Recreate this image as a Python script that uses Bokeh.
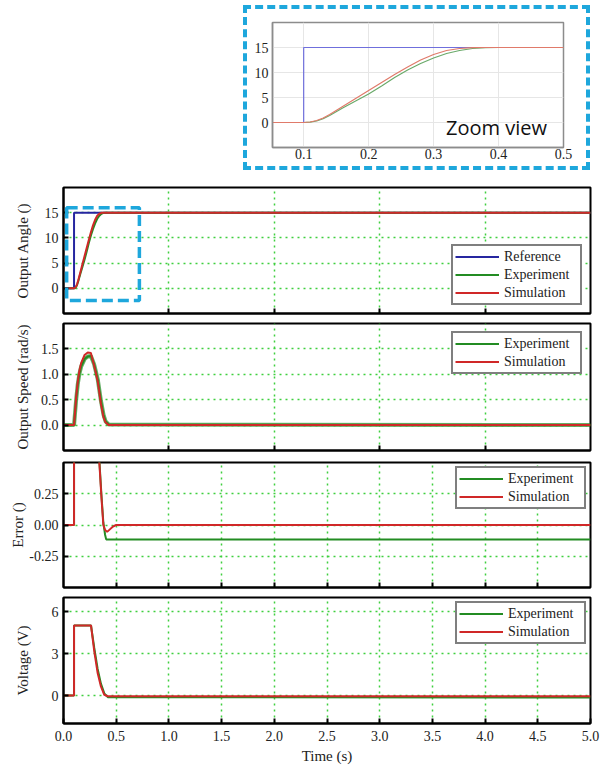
from bokeh.plotting import figure
from bokeh.layouts import column, row
from bokeh.models import Spacer, BoxAnnotation, Label, Legend, LegendItem, FixedTicker, Range1d
from bokeh.embed import file_html
from bokeh.resources import INLINE

# ---------------- data ----------------
REF_T = [0, 0.1, 0.1, 5.0]
REF_ANGLE = [0, 0, 15, 15]

ANGLE_T = [0, 0.1, 0.11, 0.12, 0.13, 0.14, 0.16, 0.18, 0.20, 0.22, 0.24, 0.26, 0.28, 0.30, 0.32, 0.34, 0.36, 0.38, 0.40, 5.0]
ANGLE_SIM = [0, 0, 0.1, 0.4, 0.9, 1.6, 3.2, 4.8, 6.4, 8.0, 9.6, 11.1, 12.5, 13.6, 14.4, 14.8, 14.97, 15, 15, 15]
ANGLE_EXP = [0, 0, 0.07, 0.3, 0.75, 1.4, 2.9, 4.3, 5.7, 7.3, 9.0, 10.5, 11.8, 12.9, 13.8, 14.4, 14.8, 14.97, 15, 15]

SPEED_T = [0, 0.10, 0.12, 0.135, 0.15, 0.167, 0.20, 0.23, 0.26, 0.29, 0.31, 0.325, 0.355, 0.38, 0.40, 0.43, 5.0]
SPEED_SIM = [0, 0, 0.55, 0.85, 1.06, 1.22, 1.38, 1.43, 1.42, 1.18, 1.0, 0.86, 0.42, 0.15, 0.05, 0, 0]
SPEED_EXP = [0, 0, 0.5, 0.8, 1.0, 1.15, 1.3, 1.35, 1.36, 1.2, 1.03, 0.9, 0.48, 0.2, 0.07, 0.01, 0]

ERR_SIM_T = [0, 0.1, 0.1, 0.2, 0.3, 0.34, 0.36, 0.378, 0.395, 0.414, 0.44, 0.47, 0.5, 5.0]
ERR_SIM = [0, 0, 15, 8.6, 1.4, 0.5, 0.22, 0.0, -0.04, -0.055, -0.035, -0.012, 0, 0]
ERR_EXP_T = [0, 0.1, 0.1, 0.2, 0.3, 0.34, 0.36, 0.378, 0.395, 0.405, 5.0]
ERR_EXP = [0, 0, 15, 9.3, 2.1, 0.52, 0.24, 0.02, -0.08, -0.115, -0.115]

VOLT_T = [0, 0.1, 0.1, 0.261, 0.292, 0.324, 0.355, 0.387, 0.42, 5.0]
VOLT_SIM = [0, 0, 5.0, 5.0, 3.16, 1.6, 0.65, 0.05, -0.05, -0.05]
VOLT_EXP = [0, 0, 5.0, 5.0, 3.4, 1.9, 0.85, 0.15, -0.12, -0.15]

TIME_TICKS = [0.0, 0.5, 1.0, 1.5, 2.0, 2.5, 3.0, 3.5, 4.0, 4.5, 5.0]
TIME_LABELS = ["0.0", "0.5", "1.0", "1.5", "2.0", "2.5", "3.0", "3.5", "4.0", "4.5", "5.0"]
COARSE_TICKS = [1.0, 2.0, 3.0, 4.0]
FINE_TICKS = [0.5, 1.0, 1.5, 2.0, 2.5, 3.0, 3.5, 4.0, 4.5]

ANGLE_TICKS = [0, 5, 10, 15]
ANGLE_LABELS = ["0", "5", "10", "15"]
SPEED_TICKS = [0.0, 0.5, 1.0, 1.5]
SPEED_LABELS = ["0.0", "0.5", "1.0", "1.5"]
ERR_TICKS = [-0.25, 0.0, 0.25]
ERR_LABELS = ["-0.25", "0.00", "0.25"]
VOLT_TICKS = [0, 3, 6]
VOLT_LABELS = ["0", "3", "6"]

ZOOM_XTICKS = [0.1, 0.2, 0.3, 0.4, 0.5]
ZOOM_XLABELS = ["0.1", "0.2", "0.3", "0.4", "0.5"]

# ---------------- style ----------------
SERIF = "Liberation Serif"
C_REF = "#2626a0"
C_EXP = "#238c23"
C_SIM = "#d02828"
C_GRID = "#3fcf3f"
C_CYAN = "#1ea7dc"


def panel(height, yr, top, bottom, yticks, ylabels, xticks, ylabel, standoff):
    p = figure(width=605, height=height, x_range=Range1d(0, 5), y_range=Range1d(*yr),
               output_backend="svg", toolbar_location=None,
               min_border_left=63, min_border_right=15, min_border_top=top, min_border_bottom=bottom)
    p.outline_line_color = "black"
    p.outline_line_width = 2
    p.background_fill_color = "white"
    p.border_fill_color = "white"
    p.xgrid.ticker = FixedTicker(ticks=xticks)
    p.ygrid.ticker = FixedTicker(ticks=yticks)
    for g in (p.xgrid, p.ygrid):
        g.grid_line_color = C_GRID
        g.grid_line_dash = "2 4"
        g.grid_line_width = 1.5
    p.xaxis.ticker = FixedTicker(ticks=xticks)
    p.yaxis.ticker = FixedTicker(ticks=yticks)
    p.yaxis.major_label_overrides = {t: l for t, l in zip(yticks, ylabels)}
    for ax in (p.xaxis, p.yaxis):
        ax.axis_line_color = "black"
        ax.axis_line_width = 2
        ax.major_tick_line_color = "black"
        ax.major_tick_line_width = 2
        ax.major_tick_in = 5
        ax.major_tick_out = 0
        ax.minor_tick_line_color = None
        ax.major_label_text_font = SERIF
        ax.major_label_text_font_size = "14px"
        ax.major_label_text_color = "#222222"
        ax.axis_label_text_font = SERIF
        ax.axis_label_text_font_size = "15px"
        ax.axis_label_text_font_style = "normal"
        ax.axis_label_text_color = "#222222"
    p.yaxis.major_label_standoff = 5
    p.yaxis.axis_label = ylabel
    p.yaxis.axis_label_standoff = standoff
    p.xaxis.major_label_overrides = {t: "" for t in xticks}
    p.xaxis.major_label_standoff = 0
    return p


def add_legend(p, items, loc, margin):
    lg = Legend(items=items, location=loc, margin=margin)
    lg.label_text_font = SERIF
    lg.label_text_font_size = "14px"
    lg.label_text_color = "#222222"
    lg.glyph_width = 44
    lg.glyph_height = 17
    lg.label_height = 17
    lg.label_width = 74
    lg.label_standoff = 5
    lg.padding = 2
    lg.spacing = 1
    lg.border_line_color = "black"
    lg.border_line_width = 2
    lg.background_fill_color = "white"
    lg.background_fill_alpha = 1
    p.add_layout(lg)


# ---------------- zoom inset ----------------
inset = figure(width=347, height=165, x_range=Range1d(0.052, 0.5), y_range=Range1d(-5, 20),
               output_backend="svg", toolbar_location=None,
               min_border_left=25, min_border_right=31, min_border_top=13, min_border_bottom=27,
               styles={"border": "4px dashed " + C_CYAN})
inset.outline_line_color = "#8c8c8c"
inset.outline_line_width = 1.5
inset.xgrid.ticker = FixedTicker(ticks=ZOOM_XTICKS)
inset.ygrid.ticker = FixedTicker(ticks=ANGLE_TICKS)
inset.xaxis.ticker = FixedTicker(ticks=ZOOM_XTICKS)
inset.yaxis.ticker = FixedTicker(ticks=ANGLE_TICKS)
inset.xaxis.major_label_overrides = {t: l for t, l in zip(ZOOM_XTICKS, ZOOM_XLABELS)}
inset.yaxis.major_label_overrides = {t: l for t, l in zip(ANGLE_TICKS, ANGLE_LABELS)}
for g in (inset.xgrid, inset.ygrid):
    g.grid_line_color = "#e6e6e6"
    g.grid_line_width = 1
for ax in (inset.xaxis, inset.yaxis):
    ax.axis_line_color = "#8c8c8c"
    ax.axis_line_width = 1.5
    ax.major_tick_line_color = None
    ax.major_tick_in = 0
    ax.major_tick_out = 0
    ax.minor_tick_line_color = None
    ax.major_label_text_font = SERIF
    ax.major_label_text_font_size = "14px"
    ax.major_label_text_color = "#222222"
inset.xaxis.major_label_standoff = 1
inset.yaxis.major_label_standoff = 4
inset.line(REF_T, REF_ANGLE, line_color="#6f6fdc", line_width=1.2)
inset.line(ANGLE_T, ANGLE_EXP, line_color="#6aaa6a", line_width=1.2)
inset.line(ANGLE_T, ANGLE_SIM, line_color="#e07a6a", line_width=1.2)
inset.add_layout(Label(x=0.319, y=-3.6, text="Zoom view", text_font="Open Sans",
                       text_font_size="20px", text_color="#111111"))

# ---------------- panel 1: angle ----------------
p1 = panel(143, (-5, 20), 12, 5, ANGLE_TICKS, ANGLE_LABELS, COARSE_TICKS, "Output Angle ()", 11)
r_ref = p1.line(REF_T, REF_ANGLE, line_color=C_REF, line_width=2)
r_exp = p1.line(ANGLE_T, ANGLE_EXP, line_color=C_EXP, line_width=2)
r_sim = p1.line(ANGLE_T, ANGLE_SIM, line_color=C_SIM, line_width=2)
p1.add_layout(BoxAnnotation(left=0.03, right=0.72, bottom=-2.4, top=16, fill_alpha=0,
                            line_color=C_CYAN, line_alpha=1, line_width=3.5, line_dash="11 5"))
add_legend(p1, [LegendItem(label="Reference", renderers=[r_ref]),
                LegendItem(label="Experiment", renderers=[r_exp]),
                LegendItem(label="Simulation", renderers=[r_sim])], "bottom_right", 8)

# ---------------- panel 2: speed ----------------
p2 = panel(138, (-0.5, 2.0), 5, 6, SPEED_TICKS, SPEED_LABELS, COARSE_TICKS, "Output Speed (rad/s)", 7)
p2.line(SPEED_T, SPEED_EXP, line_color=C_EXP, line_width=4, line_alpha=0.7)
s_exp = p2.line(SPEED_T, SPEED_EXP, line_color=C_EXP, line_width=2)
s_sim = p2.line(SPEED_T, SPEED_SIM, line_color=C_SIM, line_width=2)
add_legend(p2, [LegendItem(label="Experiment", renderers=[s_exp]),
                LegendItem(label="Simulation", renderers=[s_sim])], "top_right", 8)

# ---------------- panel 3: error ----------------
p3 = panel(136, (-0.5, 0.5), 6, 5, ERR_TICKS, ERR_LABELS, FINE_TICKS, "Error ()", 0)
e_exp = p3.line(ERR_EXP_T, ERR_EXP, line_color=C_EXP, line_width=2)
e_sim = p3.line(ERR_SIM_T, ERR_SIM, line_color=C_SIM, line_width=2)
add_legend(p3, [LegendItem(label="Experiment", renderers=[e_exp]),
                LegendItem(label="Simulation", renderers=[e_sim])], "top_right", 4)

# ---------------- panel 4: voltage ----------------
p4 = panel(176, (-2, 7), 5, 45, VOLT_TICKS, VOLT_LABELS, FINE_TICKS, "Voltage (V)", 18)
p4.xaxis.ticker = FixedTicker(ticks=TIME_TICKS)
p4.xaxis.major_label_overrides = {t: l for t, l in zip(TIME_TICKS, TIME_LABELS)}
p4.xaxis.major_label_standoff = 7
p4.xaxis.axis_label = "Time (s)"
p4.xaxis.axis_label_standoff = 4
v_exp = p4.line(VOLT_T, VOLT_EXP, line_color=C_EXP, line_width=2)
v_sim = p4.line(VOLT_T, VOLT_SIM, line_color=C_SIM, line_width=2)
add_legend(p4, [LegendItem(label="Experiment", renderers=[v_exp]),
                LegendItem(label="Simulation", renderers=[v_sim])], "top_right", 4)

layout = column(Spacer(height=5),
                row(Spacer(width=243), inset),
                Spacer(height=5),
                p1, p2, p3, p4)

open("out.html", "w").write(file_html(layout, INLINE))
